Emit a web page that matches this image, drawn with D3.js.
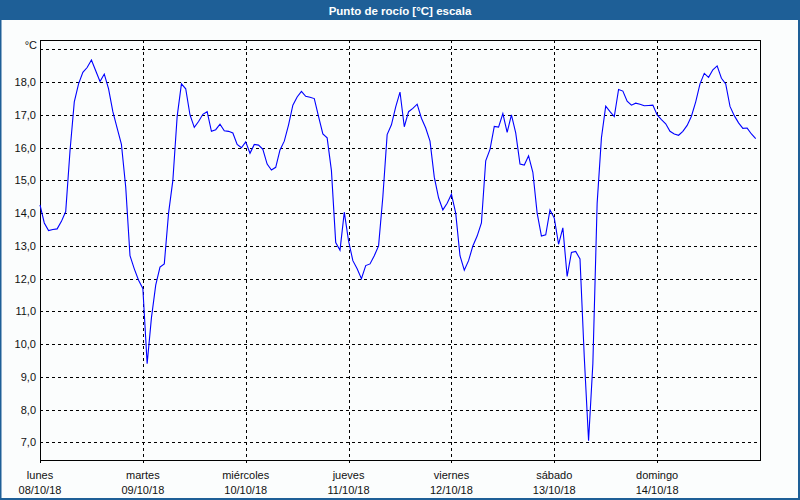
<!DOCTYPE html>
<html>
<head>
    <title>Punto de rocío</title>
    <meta charset="UTF-8">
    <script src="https://cdn.jsdelivr.net/npm/d3@7/dist/d3.min.js"></script>
    <style>
        body { margin: 0; }
        text { font-family: "Liberation Sans", Arial, sans-serif; }
    </style>
</head>
<body>
    <script>
        // hourly dew point, one array per day (°C)
        var lunes     = [14.25, 13.7, 13.47, 13.5, 13.52, 13.75, 14.05, 15.9, 17.4, 17.95, 18.3, 18.45, 18.68, 18.35, 18.02, 18.25, 17.8, 17.1, 16.6, 16.1, 14.8, 12.7, 12.3, 11.95]
        var martes    = [11.7, 9.4, 10.8, 11.8, 12.35, 12.45, 14.0, 15.0, 16.95, 17.95, 17.8, 17.0, 16.62, 16.8, 17.02, 17.1, 16.5, 16.55, 16.72, 16.52, 16.5, 16.45, 16.1, 16.0]
        var miercoles = [16.18, 15.83, 16.1, 16.08, 15.95, 15.5, 15.32, 15.4, 15.93, 16.2, 16.7, 17.3, 17.55, 17.72, 17.57, 17.54, 17.5, 16.95, 16.42, 16.3, 15.3, 13.1, 12.87, 14.03]
        var jueves    = [13.15, 12.55, 12.3, 12.0, 12.4, 12.45, 12.7, 13.0, 14.5, 16.4, 16.7, 17.25, 17.7, 16.64, 17.1, 17.2, 17.33, 16.9, 16.6, 16.2, 15.1, 14.47, 14.1, 14.3]
        var viernes   = [14.58, 14.0, 12.7, 12.26, 12.55, 13.0, 13.3, 13.7, 15.6, 15.95, 16.65, 16.63, 17.04, 16.47, 17.0, 16.45, 15.5, 15.47, 15.75, 15.25, 14.0, 13.3, 13.34, 14.1]
        var sabado    = [13.85, 13.05, 13.55, 12.07, 12.8, 12.83, 12.6, 9.6, 7.05, 9.4, 14.3, 16.3, 17.27, 17.1, 16.95, 17.78, 17.73, 17.42, 17.3, 17.36, 17.33, 17.28, 17.29, 17.3]
        var domingo   = [17.0, 16.86, 16.73, 16.5, 16.42, 16.38, 16.5, 16.68, 16.96, 17.4, 17.95, 18.27, 18.15, 18.38, 18.5, 18.12, 17.95, 17.26, 16.98, 16.76, 16.59, 16.6, 16.42, 16.28]

        var dayNames = ['lunes', 'martes', 'miércoles', 'jueves', 'viernes', 'sábado', 'domingo']
        var dayDates = ['08/10/18', '09/10/18', '10/10/18', '11/10/18', '12/10/18', '13/10/18', '14/10/18']
        var yTicks = [7, 8, 9, 10, 11, 12, 13, 14, 15, 16, 17, 18, 19]

        var start = new Date(2018, 9, 8)
        var values = [].concat(lunes, martes, miercoles, jueves, viernes, sabado, domingo)
        var data = values.map(function(v, i){
            return { t: d3.timeHour.offset(start, i), v: v }
        })
        var days = dayNames.map(function(n, i){
            return { name: n, date: dayDates[i], t: d3.timeDay.offset(start, i) }
        })

        var W = 800, H = 500
        var pLeft = 40, pRight = 760, pTop = 40, pBottom = 460

        var x = d3.scaleTime()
            .domain([start, d3.timeDay.offset(start, 7)])
            .range([pLeft, pRight])
        var y = d3.scaleLinear()
            .domain([6.46, 19.29])
            .range([pBottom, pTop])

        var svg = d3.select('body')
            .append('svg')
            .attr('width', W)
            .attr('height', H)

        svg.append('rect')
            .attr('width', W)
            .attr('height', H)
            .attr('fill', '#fbfdfd')

        // title bar
        svg.append('rect')
            .attr('width', W)
            .attr('height', 20)
            .attr('fill', '#1e5f97')
        svg.append('text')
            .attr('x', W / 2)
            .attr('y', 14.5)
            .attr('text-anchor', 'middle')
            .attr('fill', '#fff')
            .attr('font-weight', 'bold')
            .attr('font-size', '11.5px')
            .text('Punto de rocío [°C] escala')

        // outer frame
        svg.append('path')
            .attr('d', 'M0.5,20V499H799V20')
            .attr('fill', 'none')
            .attr('stroke', '#1e5f97')
            .attr('stroke-width', 2)

        // horizontal grid
        svg.selectAll('.hgrid')
            .data(yTicks)
            .enter()
            .append('line')
            .attr('class', 'hgrid')
            .attr('x1', pLeft)
            .attr('x2', pRight)
            .attr('y1', function(d){ return Math.round(y(d)) + 0.5 })
            .attr('y2', function(d){ return Math.round(y(d)) + 0.5 })
            .attr('stroke', '#000')
            .attr('stroke-dasharray', '3,3')

        // vertical grid, running a little below the axis as ticks
        svg.selectAll('.vgrid')
            .data(days.slice(1))
            .enter()
            .append('line')
            .attr('class', 'vgrid')
            .attr('x1', function(d){ return Math.round(x(d.t)) + 0.5 })
            .attr('x2', function(d){ return Math.round(x(d.t)) + 0.5 })
            .attr('y1', pTop)
            .attr('y2', pBottom + 3)
            .attr('stroke', '#000')
            .attr('stroke-dasharray', '3,3')

        // plot frame
        svg.append('rect')
            .attr('x', pLeft + 0.5)
            .attr('y', pTop + 0.5)
            .attr('width', pRight - pLeft)
            .attr('height', pBottom - pTop)
            .attr('fill', 'none')
            .attr('stroke', '#000')
        svg.append('line')
            .attr('x1', pLeft + 0.5).attr('x2', pLeft + 0.5)
            .attr('y1', pBottom).attr('y2', pBottom + 3)
            .attr('stroke', '#000')

        // y labels
        svg.selectAll('.ylab')
            .data(yTicks.slice(0, -1))
            .enter()
            .append('text')
            .attr('class', 'ylab')
            .attr('x', 36)
            .attr('y', function(d){ return y(d) + 4 })
            .attr('text-anchor', 'end')
            .attr('font-size', '11px')
            .attr('fill', '#111')
            .text(function(d){ return d3.format('.1f')(d).replace('.', ',') })
        svg.append('text')
            .attr('x', 37)
            .attr('y', 49)
            .attr('text-anchor', 'end')
            .attr('font-size', '11px')
            .attr('fill', '#111')
            .text('°C')

        // x labels
        var xl = svg.selectAll('.xlab')
            .data(days)
            .enter()
            .append('g')
            .attr('class', 'xlab')
        xl.append('text')
            .attr('x', function(d){ return x(d.t) })
            .attr('y', 479)
            .attr('text-anchor', 'middle')
            .attr('font-size', '11px')
            .attr('fill', '#111')
            .text(function(d){ return d.name })
        xl.append('text')
            .attr('x', function(d){ return x(d.t) })
            .attr('y', 494)
            .attr('text-anchor', 'middle')
            .attr('font-size', '11px')
            .attr('fill', '#111')
            .text(function(d){ return d.date })

        // the series
        var line = d3.line()
            .x(function(d){ return x(d.t) })
            .y(function(d){ return y(d.v) })
        svg.append('path')
            .datum(data)
            .attr('d', line)
            .attr('fill', 'none')
            .attr('stroke', '#0000ff')
            .attr('stroke-width', 1.1)
    </script>
</body>
</html>
